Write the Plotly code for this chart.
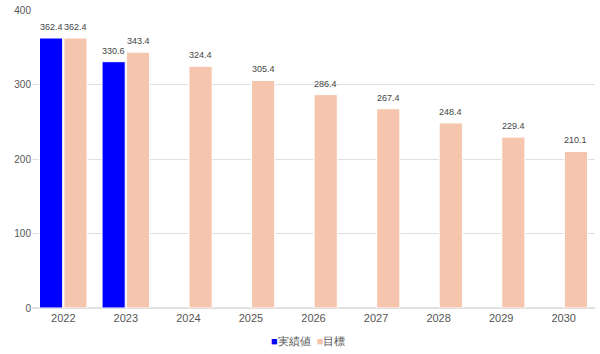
import plotly.graph_objects as go

years = ["2022", "2023", "2024", "2025", "2026", "2027", "2028", "2029", "2030"]
actual = [362.4, 330.6, None, None, None, None, None, None, None]
target = [362.4, 343.4, 324.4, 305.4, 286.4, 267.4, 248.4, 229.4, 210.1]
series_names = ["実績値", "目標"]
series_colors = ["#0000ff", "#f5c6ad"]

W, H = 600, 354
ML, MR, MT, MB = 32, 5, 10, 46
BARGAP = 0.22

fig = go.Figure()
for name, vals, col in zip(series_names, [actual, target], series_colors):
    fig.add_trace(go.Bar(x=years, y=vals, name=name, marker_color=col,
                         marker_line_color="#ffffff", marker_line_width=1))

# value labels above bars, offset to each bar in the group
cat_px = (W - ML - MR) / len(years)
slot_px = cat_px * (1 - BARGAP) / 2
annotations = []
for i, vals in enumerate([actual, target]):
    shift = round((i - 0.5) * slot_px, 1)
    for k, v in enumerate(vals):
        if v is None:
            continue
        annotations.append(dict(x=k, y=v, xref="x", yref="y", text=f"{v:.1f}",
                                showarrow=False, xanchor="center", yanchor="bottom",
                                xshift=shift, yshift=4,
                                font=dict(size=9, color="#444444")))

legend_text = "  ".join(
    f'<span style="color:{c}">■</span><span style="color:#555555">{n}</span>'
    for n, c in zip(series_names, series_colors))
annotations.append(dict(text=legend_text, xref="paper", yref="paper", x=0.49, y=-0.11,
                        xanchor="center", yanchor="middle", showarrow=False,
                        font=dict(size=11)))

fig.update_layout(
    width=W, height=H,
    margin=dict(l=ML, r=MR, t=MT, b=MB),
    barmode="group", bargap=BARGAP, bargroupgap=0.05,
    paper_bgcolor="white", plot_bgcolor="white",
    font=dict(family="Liberation Sans, Arial, sans-serif", size=11, color="#555555"),
    showlegend=False,
    annotations=annotations,
)
fig.update_xaxes(type="category", showgrid=False, showline=True, linecolor="#e0e0e0",
                 ticks="", tickfont=dict(size=11, color="#555555"))
fig.update_yaxes(range=[0, 400], dtick=100, showgrid=True, gridcolor="#e0e0e0",
                 zeroline=True, zerolinecolor="#e0e0e0", ticks="",
                 tickfont=dict(size=10, color="#555555"))

fig.write_html("out.html")
